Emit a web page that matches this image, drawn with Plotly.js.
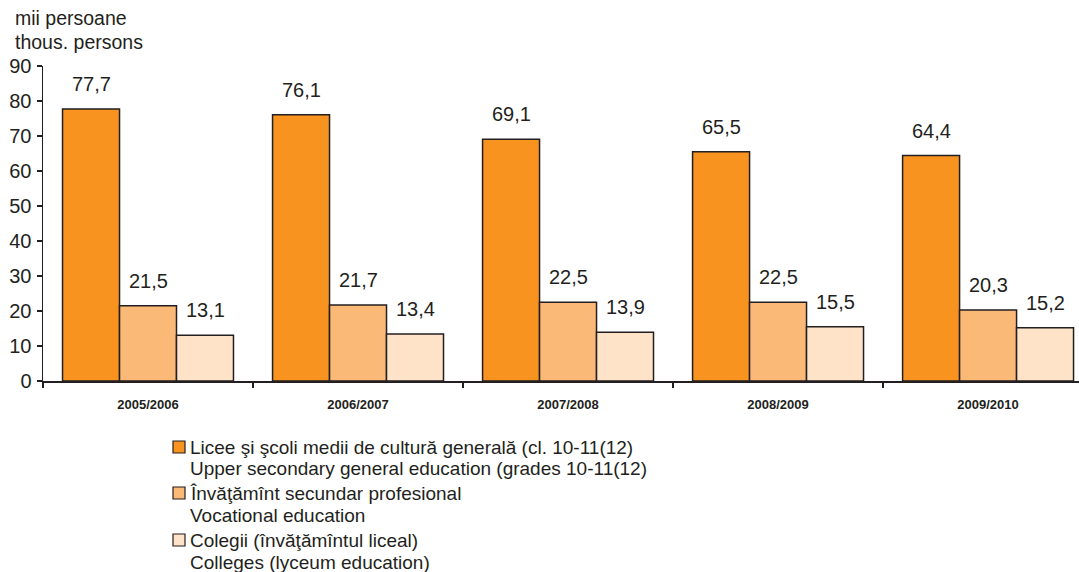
<!DOCTYPE html>
<html>
<head>
<meta charset="utf-8">
<script src="https://cdn.plot.ly/plotly-3.0.1.min.js"></script>
<style>html,body{margin:0;padding:0;background:#fff;overflow:hidden}#chart{width:1079px;height:572px}</style>
</head>
<body>
<div id="chart"></div>
<script>
const years = ["2005/2006", "2006/2007", "2007/2008", "2008/2009", "2009/2010"];
const general = [77.7, 76.1, 69.1, 65.5, 64.4];
const vocational = [21.5, 21.7, 22.5, 22.5, 20.3];
const colleges = [13.1, 13.4, 13.9, 15.5, 15.2];
const seriesNames = [
  ["Licee şi şcoli medii de cultură generală (cl. 10-11(12)", "Upper secondary general education (grades 10-11(12)"],
  ["Învăţămînt secundar profesional", "Vocational education"],
  ["Colegii (învăţămîntul liceal)", "Colleges (lyceum education)"]
];
const yTitle = ["mii persoane", "thous. persons"];

const colors = ["#f7931e", "#fbb977", "#fee3c8"];
const textColor = "#231f20";
const font = "Arial, 'Liberation Sans', sans-serif";
const fs = 20;
const allSeries = [general, vocational, colleges];

const traces = allSeries.map((vals, i) => ({
  type: "bar",
  x: years,
  y: vals,
  name: seriesNames[i].join("<br>"),
  marker: {color: colors[i], line: {color: "#231f20", width: 1.5}},
  hoverinfo: "y"
}));

const annotations = [];
const offsets = [-57, 0, 57];
allSeries.forEach((vals, i) => {
  vals.forEach((v, j) => {
    annotations.push({
      x: years[j], y: v, xref: "x", yref: "y",
      text: v.toFixed(1).replace(".", ","),
      showarrow: false, xshift: offsets[i], yshift: 25,
      yanchor: "middle",
      font: {family: font, size: fs, color: textColor}
    });
  });
});
const W = 1079, H = 572, mL = 43, mR = 0, mT = 66, mB = 191;
const px = x => (x - mL) / (W - mL - mR);
const py = y => 1 - (y - mT) / (H - mT - mB);

yTitle.forEach((t, k) => {
  annotations.push({
    x: px(14), y: py([18, 42][k]), xref: "paper", yref: "paper",
    text: t, showarrow: false, xanchor: "left", yanchor: "middle",
    borderpad: 0,
    font: {family: font, size: 19.5, color: textColor}
  });
});

const shapes = [];
const legendRows = [447, 493, 540];
seriesNames.forEach((lines, i) => {
  const y0 = legendRows[i];
  shapes.push({
    type: "rect", xref: "paper", yref: "paper",
    x0: px(173), x1: px(185), y0: py(y0 - 6), y1: py(y0 + 6),
    fillcolor: colors[i], line: {color: "#231f20", width: 1.2}
  });
  lines.forEach((t, k) => {
    annotations.push({
      x: px(189), y: py(y0 + k * 22), xref: "paper", yref: "paper",
      text: t, showarrow: false, xanchor: "left", yanchor: "middle",
      borderpad: 0,
      font: {family: font, size: 19, color: textColor}
    });
  });
});

const layout = {
  width: W, height: H,
  margin: {l: mL, r: mR, t: mT, b: mB, pad: 0},
  paper_bgcolor: "#fff", plot_bgcolor: "#fff",
  barmode: "group", bargap: 0.186, bargroupgap: 0,
  showlegend: false,
  font: {family: font, color: textColor},
  xaxis: {
    type: "category", range: [-0.5, 4.433],
    showline: true, linecolor: "#231f20", linewidth: 1.5,
    ticks: "outside", tickson: "boundaries", ticklen: 5, tickcolor: "#231f20", tickwidth: 1.5,
    tickfont: {family: font, size: 13, color: textColor, weight: "bold"},
    ticklabelstandoff: 11,
    showgrid: false, zeroline: false, fixedrange: true
  },
  yaxis: {
    range: [0, 90], dtick: 10,
    showline: true, linecolor: "#231f20", linewidth: 1.5,
    ticks: "outside", ticklen: 5, tickcolor: "#231f20", tickwidth: 1.5,
    tickfont: {family: font, size: fs, color: textColor},
    ticklabelstandoff: 1,
    showgrid: false, zeroline: false, fixedrange: true
  },
  annotations: annotations,
  shapes: shapes
};

Plotly.newPlot("chart", traces, layout, {displayModeBar: false, staticPlot: true});
</script>
</body>
</html>
